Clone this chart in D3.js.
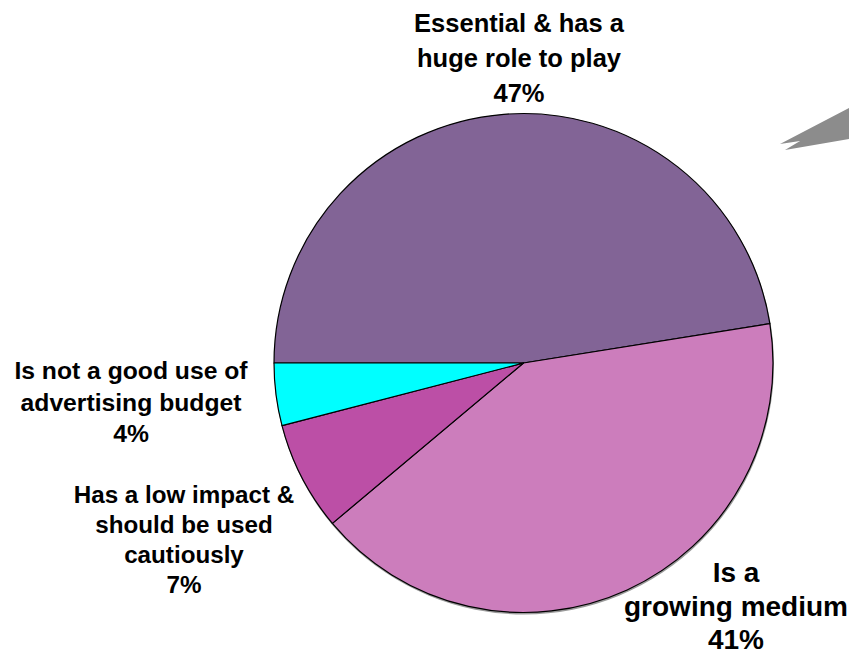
<!DOCTYPE html>
<html>
<head>
<meta charset="utf-8">
<script src="https://cdn.jsdelivr.net/npm/d3@7"></script>
<style>
  html, body { margin: 0; padding: 0; background: #fff; }
  svg { display: block; }
  .lbl { font-family: "Liberation Sans", Arial, sans-serif; font-weight: bold; fill: #000; }
</style>
</head>
<body>
<div id="chart"></div>
<script>
// Data
const categories = [
  'Essential & has a huge role to play',
  'Is a growing medium',
  'Has a low impact & should be used cautiously',
  'Is not a good use of advertising budget'
];
const values = [47, 41, 7, 4];
const labelLines = [
  ['Essential & has a', 'huge role to play'],
  ['Is a', 'growing medium'],
  ['Has a low impact &', 'should be used', 'cautiously'],
  ['Is not a good use of', 'advertising budget']
];
const colors = ['#826496', '#CC7DBC', '#BC4FA6', '#00FFFF'];

const width = 849, height = 655;
const cx = 523.5, cy = 363, radius = 249.5;

// label layout: centre x, first baseline, line step, font size
const labelLayout = [
  { x: 519, y: 32, step: 35, size: 25.5 },
  { x: 736, y: 582, step: 33.5, size: 28 },
  { x: 184, y: 503, step: 30, size: 24.2 },
  { x: 131, y: 379, step: 31.5, size: 24.7 }
];

const svg = d3.select('#chart')
  .append('svg')
  .attr('width', width)
  .attr('height', height);

// decorative grey arrow cut off at the right edge
svg.append('path')
  .attr('d', 'M849,108 L780,144 L800,141 L785,150 L849,139 Z')
  .attr('fill', '#8c8c8c');

const slices = categories.map((c, i) => ({ name: c, value: values[i], color: colors[i], lines: labelLines[i], pos: labelLayout[i] }));

const pie = d3.pie()
  .sort(null)
  .value(d => d.value)
  .startAngle(-Math.PI / 2)
  .endAngle(Math.PI * 1.5);

const arc = d3.arc().innerRadius(0).outerRadius(radius);

const g = svg.append('g').attr('transform', `translate(${cx},${cy})`);

// soft shadow under the pie
g.append('circle')
  .attr('cx', 0.5)
  .attr('cy', 1.5)
  .attr('r', radius + 0.5)
  .attr('fill', '#9a9a9a');

g.selectAll('path.slice')
  .data(pie(slices))
  .enter()
  .append('path')
  .attr('class', 'slice')
  .attr('d', arc)
  .attr('fill', d => d.data.color)
  .attr('stroke', '#000')
  .attr('stroke-width', 1.2)
  .attr('stroke-linejoin', 'round');

const labels = svg.selectAll('text.lbl')
  .data(slices)
  .enter()
  .append('text')
  .attr('class', 'lbl')
  .attr('font-size', d => d.pos.size + 'px')
  .attr('text-anchor', 'middle');

labels.each(function (d) {
  const t = d3.select(this);
  const all = d.lines.concat([Math.round(d.value) + '%']);
  all.forEach((line, i) => {
    t.append('tspan')
      .attr('x', d.pos.x)
      .attr('y', d.pos.y + i * d.pos.step)
      .text(line);
  });
});
</script>
</body>
</html>
